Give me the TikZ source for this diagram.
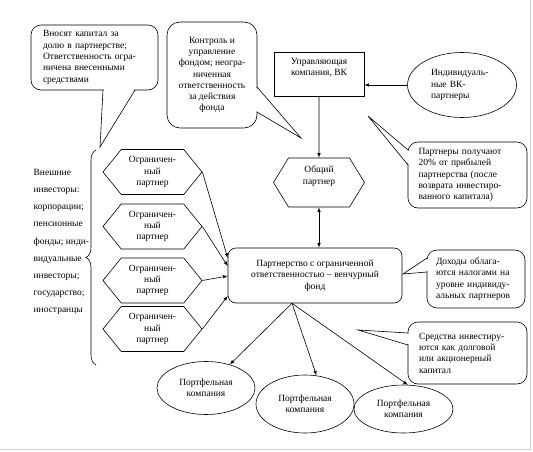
\documentclass[tikz,border=0pt]{standalone}
\usepackage{fontspec}
\setmainfont{Liberation Serif}
\usetikzlibrary{shapes.geometric,shapes.symbols,decorations.pathreplacing}

\begin{document}
\begin{tikzpicture}[x=1pt,y=-1pt,font=\fontsize{9.5}{11.3}\selectfont,>=latex,line width=.6pt]
\tikzset{bubble/.style={draw,rounded corners=10pt,inner sep=0pt},
         hexbox/.style={draw,shape=signal,signal to=west and east,signal pointer angle=102,minimum width=99pt,minimum height=45pt,inner sep=0pt,align=center},
         portf/.style={draw,ellipse,inner sep=0pt,align=center,minimum width=98pt},
         arr/.style={->,draw=black}}
\useasboundingbox (0,0) rectangle (533,452);
\draw[gray!35,line width=1pt] (530.5,0) -- (530.5,449.5) -- (0,449.5);
% callouts
\node[bubble,minimum width=127pt,minimum height=65pt,text width=103pt,align=left] (capital) at (94.5,57.5) {Вносят капитал за\\долю в партнерстве;\\Ответственность огра-\\ничена внесенными\\средствами};
\coordinate (capitaltip) at (100,147);
\fill[white] (104,89.2) -- (capitaltip) -- (134,89.2) -- cycle;
\draw (103,90) -- (capitaltip) -- (135,90);
\node[bubble,rounded corners=13pt,minimum width=90pt,minimum height=106pt,align=center] (control) at (212,75) {Контроль и\\управление\\фондом; неогра-\\ниченная\\ответственность\\за действия\\фонда};
\coordinate (controltip) at (301,138);
\fill[white] (256.2,88) -- (controltip) -- (256.2,111) -- cycle;
\draw (257,87) -- (controltip) -- (257,112);
\node[bubble,minimum width=119pt,minimum height=66pt,text width=98pt,align=left] (share) at (467.5,175) {Партнеры получают\\20\% от прибылей\\партнерства (после\\возврата инвестиро-\\ванного капитала)};
\coordinate (sharetip) at (368,116);
\fill[white] (408.8,151) -- (sharetip) -- (408.8,164) -- cycle;
\draw (408,150) -- (sharetip) -- (408,165);
\node[bubble,minimum width=98pt,minimum height=58pt,text width=80pt,align=left] (tax) at (476,279) {Доходы облага-\\ются налогами на\\уровне индивиду-\\альных партнеров};
\coordinate (taxtip) at (403,274);
\fill[white] (427.8,259) -- (taxtip) -- (427.8,271) -- cycle;
\draw (427,258) -- (taxtip) -- (427,272);
\node[bubble,minimum width=119pt,minimum height=62pt,text width=97pt,align=left] (equity) at (467.5,353) {Средства инвестиру-\\ются как долговой\\или акционерный\\капитал};
\coordinate (equitytip) at (358,330);
\fill[white] (408.8,334) -- (equitytip) -- (408.8,344) -- cycle;
\draw (408,333) -- (equitytip) -- (408,345);
% main chain
\node[draw,minimum width=90pt,minimum height=44pt,align=center] (vc) at (319,74) {Управляющая\\компания, ВК\\\strut};
\node[draw,ellipse,minimum width=109pt,minimum height=65pt,inner sep=0pt,text width=62pt,align=left] (indiv) at (462,85) {Индивидуаль-\\ные ВК-\\партнеры};
\node[hexbox,minimum width=91pt,minimum height=49pt,signal pointer angle=117] (gp) at (319,182.5) {Общий\\партнер\\\strut};
\node[draw,rounded corners=8pt,minimum width=174pt,minimum height=55pt,align=center] (fund) at (315,275.5) {Партнерство с ограниченной\\ответственностью – венчурный\\фонд};
\draw[arr] (indiv.west) -- (indiv.west -| vc.east);
\draw[arr] (vc) -- (gp);
\draw[<->] (gp.south) -- (gp.south |- fund.north);
% limited partners
\node[hexbox] (lp1) at (152.5,172) {Ограничен-\\ный\\партнер};
\node[hexbox] (lp2) at (152.5,226.5) {Ограничен-\\ный\\партнер};
\node[hexbox] (lp3) at (152.5,280.5) {Ограничен-\\ный\\партнер};
\node[hexbox] (lp4) at (152.5,329) {Ограничен-\\ный\\партнер};
\draw[arr] (lp1.east) -- ([yshift=17.5pt]fund.west);
\draw[arr] (lp2.east) -- ([yshift=9.5pt]fund.west);
\draw[arr] (lp3.east) -- ([yshift=-.5pt]fund.west);
\draw[arr] (lp4.east) -- ([yshift=-20.5pt]fund.west);
\node[align=left,anchor=west,font=\fontsize{9.5}{17.2}\selectfont] (investors) at (30,242) {Внешние\\инвесторы:\\корпорации;\\пенсионные\\фонды; инди-\\видуальные\\инвесторы;\\государство;\\иностранцы};
\draw[decorate,decoration={brace,amplitude=10pt}] (96,365) -- (96,150);
% portfolio companies
\node[portf,minimum height=53pt] (pc1) at (206,388) {Портфельная\\компания};
\node[portf,minimum height=58pt] (pc2) at (305,404) {Портфельная\\компания};
\node[portf,minimum width=99pt,minimum height=48pt] (pc3) at (403.5,409) {Портфельная\\компания};
\coordinate (fundout) at ([xshift=-23pt]fund.south);
\draw[arr] (fundout) -- (pc1);
\draw[arr] (fundout) -- (pc2.68);
\draw[arr] (fundout) -- (pc3.80);
\end{tikzpicture}
\end{document}
